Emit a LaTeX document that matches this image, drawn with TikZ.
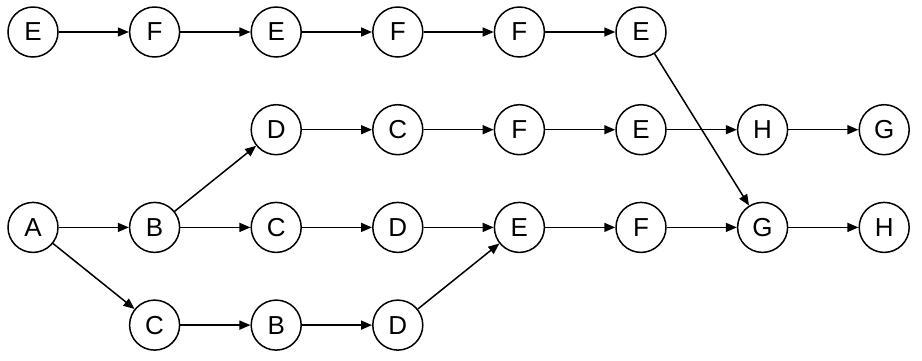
\documentclass[tikz,border=0pt]{standalone}
\usepackage{fontspec}
\setmainfont{Liberation Sans}
\usetikzlibrary{positioning,arrows.meta}

\begin{document}
\begin{tikzpicture}[
            st/.style={draw,circle,line width=1.5pt,minimum size=50pt,inner sep=0pt,font=\fontsize{26}{30}\selectfont},
            >={Triangle[length=11pt,width=9pt]},
        ]

        \tikzset{
            node distance=97.7pt and 121.6pt,
            on grid,
        }

        % top row
        \node[st] (t1) {E};
        \node[st,right=of t1] (t2) {F};
        \node[st,right=of t2] (t3) {E};
        \node[st,right=of t3] (t4) {F};
        \node[st,right=of t4] (t5) {F};
        \node[st,right=of t5] (t6) {E};

        % main row
        \node[st,below=195.4pt of t1] (m1) {A};
        \node[st,right=of m1] (m2) {B};
        \node[st,right=of m2] (m3) {C};
        \node[st,right=of m3] (m4) {D};
        \node[st,right=of m4] (m5) {E};
        \node[st,right=of m5] (m6) {F};
        \node[st,right=of m6] (m7) {G};
        \node[st,right=of m7] (m8) {H};

        % upper branch
        \node[st,above=of m3] (u3) {D};
        \node[st,right=of u3] (u4) {C};
        \node[st,right=of u4] (u5) {F};
        \node[st,right=of u5] (u6) {E};
        \node[st,right=of u6] (u7) {H};
        \node[st,right=of u7] (u8) {G};

        % lower branch
        \node[st,below=of m2] (l2) {C};
        \node[st,right=of l2] (l3) {B};
        \node[st,right=of l3] (l4) {D};

        \useasboundingbox ([shift={(-33pt,32pt)}]t1.center) rectangle ++(922pt,-360pt);

        \draw[->,line width=1.5pt]
            (t1) edge (t2)
            (t2) edge (t3)
            (t3) edge (t4)
            (t4) edge (t5)
            (t5) edge (t6)
            (t6) edge (m7)
            (m1) edge (m2)
            (m2) edge (m3)
            (m3) edge (m4)
            (m4) edge (m5)
            (m5) edge (m6)
            (m6) edge (m7)
            (m7) edge (m8)
            (m2) edge (u3)
            (u3) edge (u4)
            (u4) edge (u5)
            (u5) edge (u6)
            (u6) edge (u7)
            (u7) edge (u8)
            (m1) edge (l2)
            (l2) edge (l3)
            (l3) edge (l4)
            (l4) edge (m5)
        ;

\end{tikzpicture}
\end{document}
